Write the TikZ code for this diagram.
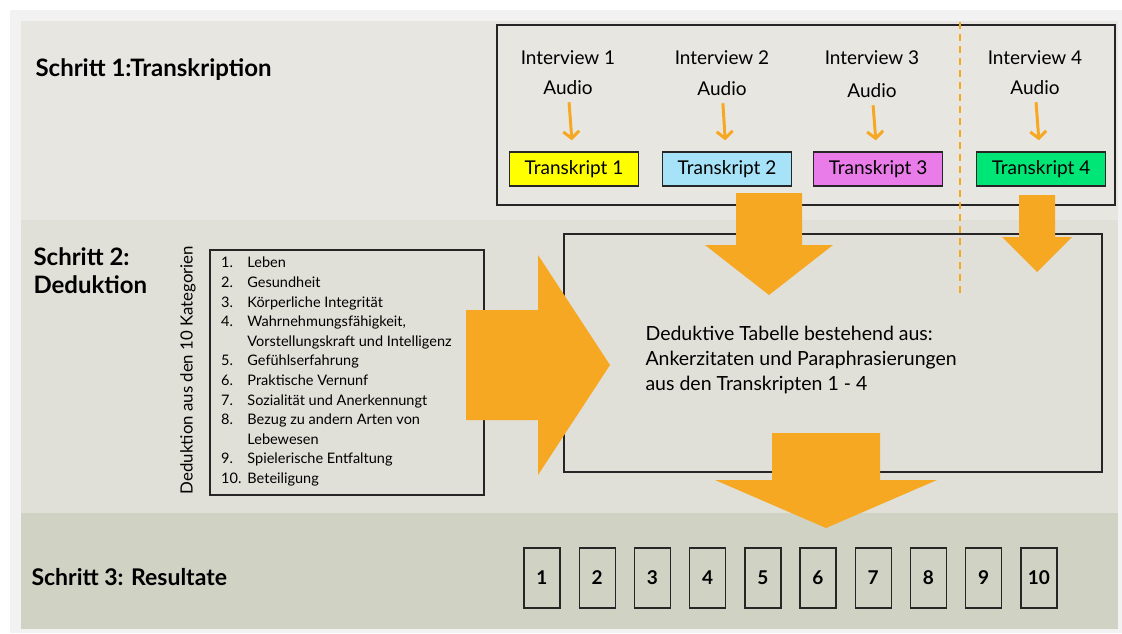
\documentclass[tikz,border=0pt]{standalone}
\usepackage{fontspec}
\setmainfont{Lato}
\usetikzlibrary{positioning,arrows.meta}
\definecolor{orng}{HTML}{F7A823}
\definecolor{bandA}{HTML}{E8E6E1}
\definecolor{bandB}{HTML}{E0E0D8}
\definecolor{bandC}{HTML}{D0D2C4}
\definecolor{rim}{HTML}{F2F2F2}
\definecolor{tyel}{HTML}{FFFF00}
\definecolor{tblu}{HTML}{A6E2F8}
\definecolor{tvio}{HTML}{EA7CEA}
\definecolor{tgrn}{HTML}{00E676}
\tikzset{
  steptitle/.style={font=\bfseries\fontsize{24}{28}\selectfont, anchor=west, align=left},
  itext/.style={font=\fontsize{19}{22}\selectfont, inner sep=0pt},
  tbox/.style={draw=black!85, line width=1.4pt, minimum width=129pt, minimum height=34pt, inner sep=0pt, font=\fontsize{19}{22}\selectfont},
  smallarr/.style={orng, line width=3pt, -{Straight Barb[length=7pt,width=16pt]}, shorten <=7pt, shorten >=11pt},
  bigarr/.style={fill=orng, draw=none},
  frame/.style={draw=black!85, line width=1.5pt},
  resbox/.style={draw=black!85, line width=1.4pt, minimum width=36pt, minimum height=60pt, inner sep=0pt, font=\bfseries\fontsize{19}{20}\selectfont}
}
\newcommand{\interview}[5]{%
  \node[itext] (iv#1) at (#2,58) {Interview #1};
  \node[itext] (au#1) at (#2,#3) {Audio};
  \node[tbox, fill=#5] (tr#1) at (#4,169) {Transkript #1};
  \draw[smallarr] (au#1) -- (tr#1);}

\begin{document}
\begin{tikzpicture}[x=1pt,y=-1pt]
        \useasboundingbox (0,0) rectangle (1122,633);
        \fill[white] (0,0) rectangle (1122,633);
        \fill[rim] (10,10) rectangle (1122,633);
        \fill[bandA] (21,21) rectangle (1118,220);
        \fill[bandB] (21,220) rectangle (1118,513);
        \fill[bandC] (21,513) rectangle (1118,629);

        % Schritt 1
        \node[steptitle] (s1) at (32,70) {Schritt 1:Transkription};
        \draw[frame] (497,25) rectangle (1115,205);
        \interview{1}{568}{88}{574}{tyel}
        \interview{2}{722}{89}{727}{tblu}
        \interview{3}{872}{91}{878}{tvio}
        \interview{4}{1035}{88}{1041}{tgrn}

        % Schritt 2
        \node[steptitle] (s2) at (30,271) {Schritt 2:\\Deduktion};
        \node[rotate=90, font=\fontsize{16.8}{18}\selectfont] (kat) at (188,370) {Deduktion aus den 10 Kategorien};
        \draw[frame] (210,250) rectangle (484,495);
        \node[anchor=north west, inner sep=0pt, font=\fontsize{14.5}{19.6}\selectfont] (liste) at (221,254) {%
          \begin{tabular}{@{}l@{\hspace{6pt}}l@{}}
          1. & Leben\\
          2. & Gesundheit\\
          3. & Körperliche Integrität\\
          4. & Wahrnehmungsfähigkeit,\\
             & Vorstellungskraft und Intelligenz\\
          5. & Gefühlserfahrung\\
          6. & Praktische Vernunf\\
          7. & Sozialität und Anerkennungt\\
          8. & Bezug zu andern Arten von\\
             & Lebewesen\\
          9. & Spielerische Entfaltung\\
          10.& Beteiligung
          \end{tabular}};

        \draw[frame] (564,234) rectangle (1102,472);
        \node[anchor=west, align=left, font=\fontsize{19.5}{25}\selectfont] (tab) at (642,360) {Deduktive Tabelle bestehend aus:\\Ankerzitaten und Paraphrasierungen\\aus den Transkripten 1 - 4};

        % grosse Pfeile
        \fill[bigarr] (736,193) -- (802,193) -- (802,245) -- (833,245) -- (769,295) -- (705,245) -- (736,245) -- cycle;
        \fill[bigarr] (1019,195) -- (1055,195) -- (1055,237) -- (1072,237) -- (1037,272) -- (1002,237) -- (1019,237) -- cycle;
        \fill[bigarr] (466,310) -- (538,310) -- (538,255) -- (610,365) -- (538,475) -- (538,420) -- (466,420) -- cycle;
        \fill[bigarr] (772,433) -- (880,433) -- (880,480) -- (937,480) -- (826,528) -- (715,480) -- (772,480) -- cycle;

        \draw[orng, line width=2pt, dash pattern=on 7pt off 5pt] (960,22) -- (960,294);

        % Schritt 3
        \node[steptitle, font=\bfseries\fontsize{23}{25}\selectfont] (s3) at (28,577) {Schritt 3: Resultate};
        \foreach \k in {1,...,10}
          \node[resbox] (r\k) at ({542+(\k-1)*55.2},578) {\k};
\end{tikzpicture}
\end{document}
